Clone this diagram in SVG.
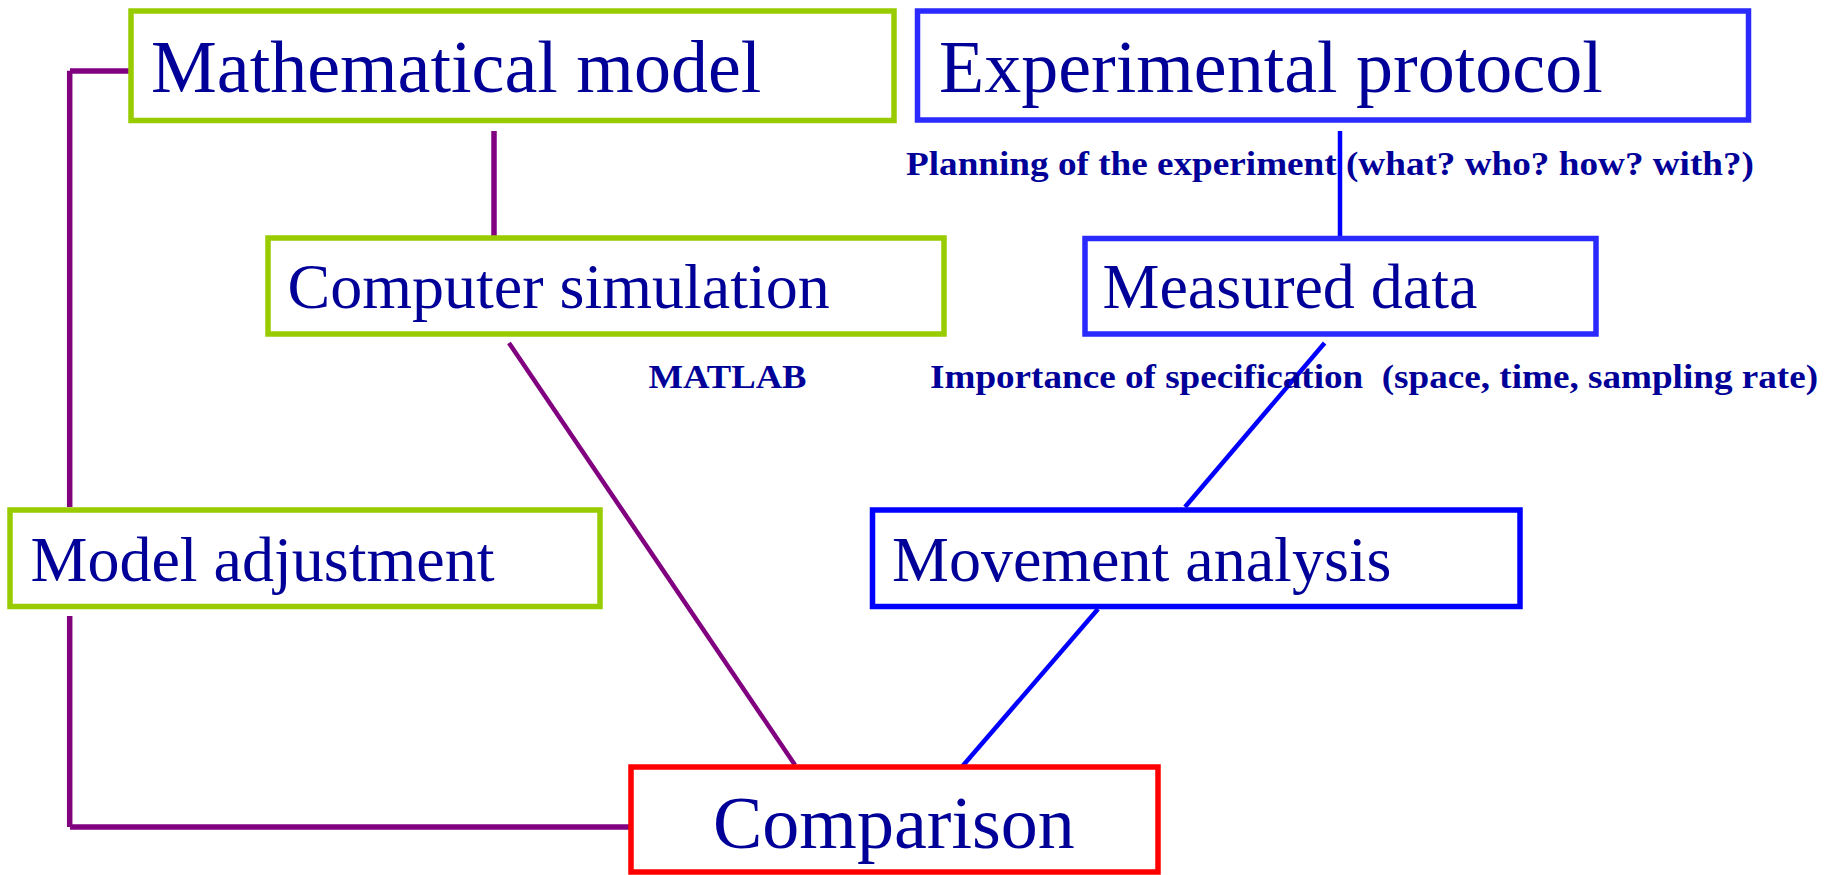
<svg xmlns="http://www.w3.org/2000/svg" width="1835" height="875" viewBox="0 0 1835 875">
<style>
.box{fill:#fff;stroke-width:5.5}
.g{stroke:#99CC00}
.b{stroke:#2A2AFF}
.b2{stroke:#0000FF}
.r{stroke:#FF0000}
.t{font-family:"Liberation Serif","Times New Roman",serif;fill:#000099}
.lab{font-family:"Liberation Serif","Times New Roman",serif;fill:#000099;font-weight:bold}
.p{stroke:#800080;stroke-width:5.5;fill:none}
.pd{stroke:#800080;stroke-width:4.5;fill:none}
.bl{stroke:#0000FF;stroke-width:4.5;fill:none}
</style>
<rect width="1835" height="875" fill="#fff"/>
<g id="connectors">
<line class="p" x1="70" y1="71" x2="130" y2="71"/>
<line class="p" x1="69.7" y1="70.7" x2="69.7" y2="507"/>
<line class="p" x1="69.7" y1="616" x2="69.7" y2="827"/>
<line class="p" x1="70" y1="827" x2="629" y2="827"/>
<line class="p" x1="494" y1="131" x2="494" y2="236"/>
<line class="pd" x1="509" y1="343" x2="795" y2="765"/>
<line class="bl" x1="1340" y1="131" x2="1340" y2="236"/>
<line class="bl" x1="1324.6" y1="343" x2="1185" y2="507"/>
<line class="bl" x1="1098" y1="609" x2="962.6" y2="766"/>
</g>
<g id="mathematical-model">
<rect class="box g" x="131" y="11" width="763" height="109.5"/>
<text class="t" x="151" y="92" font-size="74">Mathematical model</text>
</g>
<g id="experimental-protocol">
<rect class="box b" x="917.5" y="11" width="831" height="109"/>
<text class="t" x="939" y="92" font-size="74">Experimental protocol</text>
</g>
<g id="computer-simulation">
<rect class="box g" x="268" y="238" width="676" height="96"/>
<text class="t" x="287.5" y="308" font-size="64">Computer simulation</text>
</g>
<g id="measured-data">
<rect class="box b" x="1085" y="238.5" width="511" height="95.5"/>
<text class="t" x="1102.5" y="308" font-size="64">Measured data</text>
</g>
<g id="model-adjustment">
<rect class="box g" x="10" y="510" width="590" height="96.5"/>
<text class="t" x="30.5" y="581" font-size="64">Model adjustment</text>
</g>
<g id="movement-analysis">
<rect class="box b2" x="872.5" y="510" width="647.5" height="96.5"/>
<text class="t" x="892" y="581" font-size="64">Movement analysis</text>
</g>
<g id="comparison">
<rect class="box r" x="631" y="767" width="527" height="105"/>
<text class="t" x="713" y="848" font-size="74">Comparison</text>
</g>
<g id="labels">
<text class="lab" x="648.5" y="388" font-size="34" textLength="158" lengthAdjust="spacingAndGlyphs">MATLAB</text>
<text class="lab" x="906" y="175" font-size="34" textLength="848" lengthAdjust="spacingAndGlyphs">Planning of the experiment (what? who? how? with?)</text>
<text class="lab" x="930" y="388" font-size="34" textLength="888" lengthAdjust="spacingAndGlyphs" xml:space="preserve">Importance of specification  (space, time, sampling rate)</text>
</g>
</svg>
